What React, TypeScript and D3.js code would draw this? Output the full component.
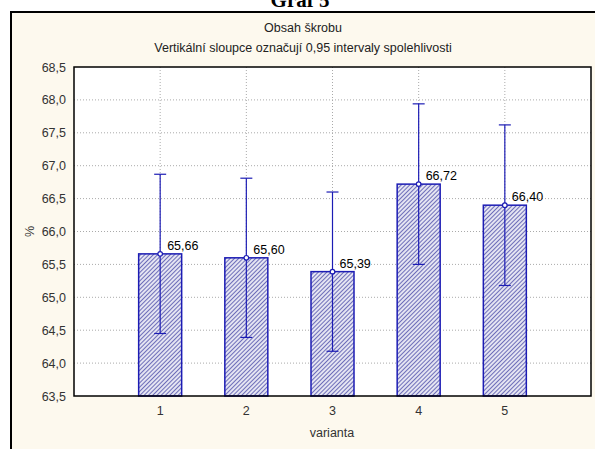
import React from "react";
import * as d3 from "d3";

const categories = ["1", "2", "3", "4", "5"];
const means = [65.66, 65.6, 65.39, 66.72, 66.4];
const upper = [66.87, 66.81, 66.6, 67.94, 67.62];
const lower = [64.45, 64.39, 64.18, 65.5, 65.18];
const yTicks = [63.5, 64.0, 64.5, 65.0, 65.5, 66.0, 66.5, 67.0, 67.5, 68.0, 68.5];

const W = 595;
const H = 449;
const left = 74;
const right = 591;
const top = 67;
const bottom = 396;

const fmt = (v: number) => d3.format(".2f")(v).replace(".", ",");
const fmt1 = (v: number) => d3.format(".1f")(v).replace(".", ",");

export default function App() {
  const x = d3.scaleLinear().domain([0, categories.length + 1]).range([left, right]);
  const y = d3.scaleLinear().domain([63.5, 68.5]).range([bottom, top]);
  const bw = 43;
  const cap = 6;
  const font = "Liberation Sans, Arial, sans-serif";
  const blue = "#1c1cb4";
  return (
    <svg width={W} height={H} style={{ position: "absolute", left: 0, top: 0 }} fontFamily={font}>
      <defs>
        <pattern id="hatch" width="3" height="3" patternUnits="userSpaceOnUse" patternTransform="rotate(45)">
          <rect width="3" height="3" fill="#e4e4f2" />
          <line x1="0" y1="0" x2="0" y2="3" stroke="#2e2e9a" strokeWidth="1.3" />
        </pattern>
      </defs>
      <rect x={0} y={0} width={W} height={H} fill="#ffffff" />
      <text x={300} y={7} textAnchor="middle" fontFamily="Liberation Serif, Times New Roman, serif" fontWeight="bold" fontSize={21}>
        Graf 5
      </text>
      <rect x={11} y={12} width={W + 20} height={H + 20} fill="#fdf9ee" stroke="#000" strokeWidth={2} />
      <text x={303} y={32} textAnchor="middle" fontSize={12.5} fill="#222">
        Obsah škrobu
      </text>
      <text x={303} y={52} textAnchor="middle" fontSize={12.5} fill="#222">
        Vertikální sloupce označují 0,95 intervaly spolehlivosti
      </text>
      <rect x={left} y={top} width={right - left} height={bottom - top} fill="#fff" />
      {yTicks.map((t) => (
        <g key={t}>
          {t > 63.5 && t < 68.5 && (
            <line x1={left} x2={right} y1={y(t)} y2={y(t)} stroke="#aaa" strokeWidth={1} strokeDasharray="1,2" />
          )}
          <text x={66} y={y(t) + 4.5} textAnchor="end" fontSize={12.5} fill="#333">
            {fmt1(t)}
          </text>
        </g>
      ))}
      {categories.map((c, i) => (
        <g key={c}>
          <line x1={x(i + 1)} x2={x(i + 1)} y1={top} y2={bottom} stroke="#aaa" strokeWidth={1} strokeDasharray="1,2" />
          <text x={x(i + 1)} y={bottom + 19} textAnchor="middle" fontSize={12.5} fill="#333">
            {c}
          </text>
        </g>
      ))}
      {means.map((m, i) => (
        <rect key={"b" + i} x={x(i + 1) - bw / 2} y={y(m)} width={bw} height={bottom - y(m)} fill="url(#hatch)" stroke={blue} strokeWidth={1.5} />
      ))}
      {means.map((m, i) => (
        <g key={"e" + i} stroke={blue} strokeWidth={1.2}>
          <line x1={x(i + 1)} x2={x(i + 1)} y1={y(upper[i])} y2={y(lower[i])} />
          <line x1={x(i + 1) - cap} x2={x(i + 1) + cap} y1={y(upper[i])} y2={y(upper[i])} />
          <line x1={x(i + 1) - cap} x2={x(i + 1) + cap} y1={y(lower[i])} y2={y(lower[i])} />
          <circle cx={x(i + 1)} cy={y(m)} r={2.3} fill="#fff" />
        </g>
      ))}
      {means.map((m, i) => (
        <text key={"l" + i} x={x(i + 1) + 7} y={y(m) - 4} fontSize={12.5} fill="#000">
          {fmt(m)}
        </text>
      ))}
      <rect x={left} y={top} width={right - left} height={bottom - top} fill="none" stroke="#000" strokeWidth={1.5} />
      <text x={332} y={437} textAnchor="middle" fontSize={12.5} fill="#333">
        varianta
      </text>
      <text transform={`translate(30,${y(66)}) rotate(-90)`} textAnchor="middle" dy={4} fontSize={12.5} fill="#333">
        %
      </text>
    </svg>
  );
}
